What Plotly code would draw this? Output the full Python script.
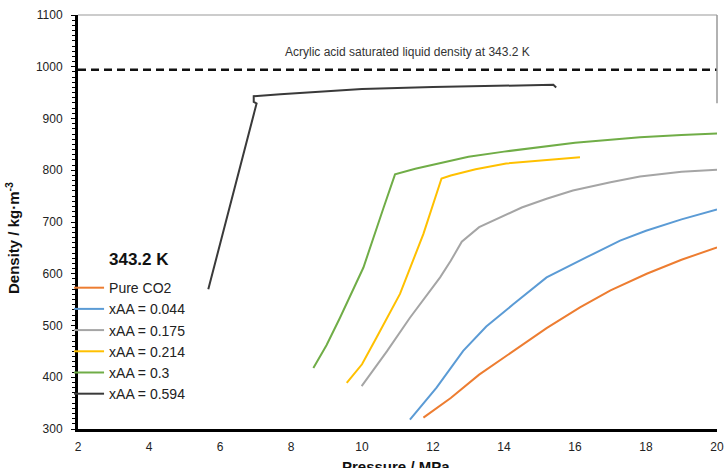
import plotly.graph_objects as go

# ---- data ----
p_co2 = [11.73, 12.5, 13.3, 14.26, 15.2, 16.14, 17.0, 18.02, 19.0, 20.0]
d_co2 = [322, 360, 405, 451, 495, 535, 568, 600, 627, 651]

p_044 = [11.35, 12.1, 12.85, 13.5, 14.26, 15.2, 16.33, 17.27, 18.0, 19.0, 20.0]
d_044 = [318, 380, 451, 498, 541, 593, 632, 664, 683, 705, 724]

p_175 = [9.99, 10.7, 11.35, 12.2, 12.5, 12.81, 13.3, 13.89, 14.5, 15.2, 15.94, 17.0, 17.83, 19.0, 20.0]
d_175 = [383, 450, 515, 593, 625, 662, 690, 709, 728, 745, 761, 777, 788, 797, 801]

p_214 = [9.57, 10.0, 10.41, 11.07, 11.73, 12.0, 12.24, 12.5, 13.2, 14.06, 15.0, 16.14]
d_214 = [389, 425, 477, 561, 677, 734, 784, 790, 802, 813, 819, 825]

p_300 = [8.63, 9.0, 9.38, 10.04, 10.6, 10.93, 11.5, 12.2, 13.0, 14.0, 15.01, 16.0, 17.0, 17.83, 19.0, 20.0]
d_300 = [418, 462, 515, 612, 726, 792, 803, 814, 826, 836, 845, 853, 859, 864, 868, 871]

p_594 = [5.67, 7.03, 6.95, 6.95, 7.7, 10.0, 12.0, 14.0, 15.39, 15.47]
d_594 = [570, 929, 932, 943, 947, 957, 961, 964, 965, 960]

aa_sat_density = 994
x_ticks = [2, 4, 6, 8, 10, 12, 14, 16, 18, 20]
y_ticks = [300, 400, 500, 600, 700, 800, 900, 1000, 1100]

series = [
    ("Pure CO2", p_co2, d_co2, "#ED7D31"),
    ("xAA = 0.044", p_044, d_044, "#5B9BD5"),
    ("xAA = 0.175", p_175, d_175, "#A5A5A5"),
    ("xAA = 0.214", p_214, d_214, "#FFC000"),
    ("xAA = 0.3", p_300, d_300, "#70AD47"),
    ("xAA = 0.594", p_594, d_594, "#3a3a3a"),
]

fig = go.Figure()
for name, xs, ys, col in series:
    fig.add_trace(go.Scatter(x=xs, y=ys, mode="lines", name=name,
                             line=dict(color=col, width=2)))

# saturated liquid density reference line
fig.add_trace(go.Scatter(x=[x_ticks[0], x_ticks[-1]], y=[aa_sat_density, aa_sat_density],
                         mode="lines", showlegend=False,
                         line=dict(color="#111", width=2.5, dash="8px,5px")))

font_fam = "Liberation Sans, Arial, sans-serif"

fig.update_layout(
    width=725, height=468,
    margin=dict(l=78, r=8, t=15, b=39),
    paper_bgcolor="white", plot_bgcolor="white",
    font=dict(family=font_fam, color="#222"),
    showlegend=True,
    legend=dict(x=-0.014, y=0.379, xanchor="left", yanchor="top",
                bgcolor="rgba(0,0,0,0)", font=dict(size=14, color="#222"),
                tracegroupgap=0),
    xaxis=dict(range=[2, 20], tickvals=x_ticks, showgrid=False, zeroline=False,
               automargin=False,
               showline=True, linecolor="black", linewidth=2.5,
               ticks="", tickfont=dict(size=12, color="#222"),
               ticklabelstandoff=5),
    yaxis=dict(range=[300, 1100], tickvals=y_ticks, showgrid=False, zeroline=False,
               automargin=False,
               showline=True, linecolor="black", linewidth=3,
               ticks="outside", ticklen=4, tickcolor="black", tickwidth=1,
               minor=dict(dtick=10, ticks="outside", ticklen=3, tickcolor="black", tickwidth=1),
               tickfont=dict(size=12, color="#222"), ticklabelstandoff=6),
)

# partial frame (top and upper right)
fig.add_shape(type="line", xref="paper", yref="paper", x0=0, x1=1, y0=1, y1=1,
              line=dict(color="#999", width=1.2))
fig.add_shape(type="line", xref="paper", yref="paper", x0=1, x1=1, y0=1, y1=0.787,
              line=dict(color="#999", width=1.5))

fig.add_annotation(text="Acrylic acid saturated liquid density at 343.2 K",
                   xref="paper", yref="y", x=0.515, y=1028, showarrow=False,
                   font=dict(size=12, color="#333"))
fig.add_annotation(text="<b>343.2 K</b>", xref="paper", yref="y", x=0.045, y=628,
                   xanchor="left", showarrow=False, font=dict(size=17, color="#111"))
fig.add_annotation(text="<b>Density / kg·m<sup>-3</sup></b>", xref="paper", yref="paper",
                   x=-(78 - 13) / 639, y=(429 - 238) / 414, textangle=-90,
                   xanchor="center", yanchor="middle",
                   showarrow=False, font=dict(size=15, color="#111"))
fig.add_annotation(text="<b>Pressure / MPa</b>", xref="paper", yref="paper",
                   x=(396 - 78) / 639, y=-(456 - 429) / 414, yanchor="top",
                   xanchor="center",
                   showarrow=False, font=dict(size=15, color="#111"))

fig.write_html("out.html")
